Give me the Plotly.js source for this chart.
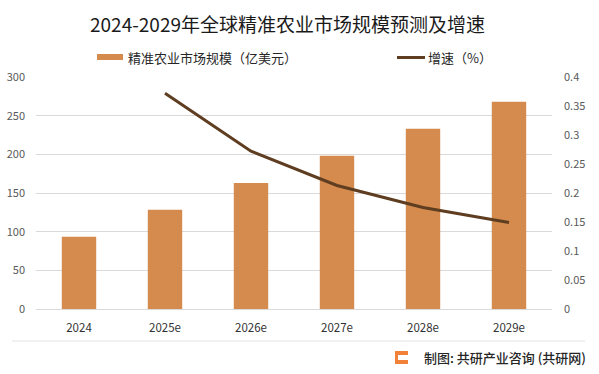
<!DOCTYPE html>
<html>
<head>
<meta charset="utf-8">
<script src="https://cdn.plot.ly/plotly-3.0.1.min.js"></script>
<style>
html,body{margin:0;padding:0;background:#fff;}
#chart{width:599px;height:374px;}
</style>
</head>
<body>
<div id="chart"></div>
<script>
const categories = ["2024", "2025e", "2026e", "2027e", "2028e", "2029e"];
const marketSize = [93.5, 128.5, 163.0, 198.3, 233.2, 268.0];
const growthRate = [null, 0.372, 0.272, 0.213, 0.175, 0.149];
const leftTicks = [0, 50, 100, 150, 200, 250, 300];
const rightTicks = [0, 0.05, 0.1, 0.15, 0.2, 0.25, 0.3, 0.35, 0.4];
const rightTickText = ["0", "0.05", "0.1", "0.15", "0.2", "0.25", "0.3", "0.35", "0.4"];
const titleText = "2024-2029年全球精准农业市场规模预测及增速";
const barName = "精准农业市场规模（亿美元）";
const lineName = "增速（%）";
const sourceText = "制图: 共研产业咨询 (共研网)";

const FONT = '"Noto Sans CJK SC", "Noto Sans", sans-serif';
const barColor = "#D48B4D";
const lineColor = "#5E3D20";

const traces = [
  {
    type: "bar",
    x: categories,
    y: marketSize,
    name: barName,
    marker: {color: barColor},
    width: 0.4,
    yaxis: "y",
    hoverinfo: "x+y"
  },
  {
    type: "scatter",
    mode: "lines",
    x: categories,
    y: growthRate,
    name: lineName,
    line: {color: lineColor, width: 3},
    yaxis: "y2",
    connectgaps: false
  }
];

const px = v => (v - 36) / 516;
const py = v => (309 - v) / 232;

const layout = {
  width: 599,
  height: 374,
  margin: {l: 36, r: 47, t: 77, b: 65},
  paper_bgcolor: "#ffffff",
  plot_bgcolor: "#ffffff",
  showlegend: false,
  font: {family: FONT, color: "#595959", size: 11},
  title: {
    text: titleText,
    font: {family: FONT, size: 19, color: "#1a1a1a", weight: 400},
    x: 0.48, xref: "container", xanchor: "center",
    y: 0.933, yref: "container", yanchor: "middle"
  },
  xaxis: {
    type: "category",
    showgrid: false,
    showline: false,
    zeroline: false,
    ticks: "",
    tickfont: {family: FONT, size: 11.5, color: "#333333"},
    ticklabelstandoff: 10
  },
  yaxis: {
    range: [0, 300],
    tickvals: leftTicks,
    showgrid: true,
    gridcolor: "#d9d9d9",
    gridwidth: 1,
    zeroline: true,
    zerolinecolor: "#d9d9d9",
    zerolinewidth: 1,
    showline: false,
    ticks: "",
    tickfont: {family: FONT, size: 11, color: "#595959"},
    ticklabelstandoff: 10
  },
  yaxis2: {
    overlaying: "y",
    side: "right",
    range: [0, 0.4],
    tickvals: rightTicks,
    ticktext: rightTickText,
    showgrid: false,
    zeroline: false,
    showline: false,
    ticks: "",
    tickfont: {family: FONT, size: 11, color: "#595959"},
    ticklabelstandoff: 11
  },
  shapes: [
    {type: "rect", xref: "paper", yref: "paper",
     x0: px(97), x1: px(123), y0: py(60), y1: py(54),
     fillcolor: barColor, line: {width: 0}},
    {type: "line", xref: "paper", yref: "paper",
     x0: px(397), x1: px(425), y0: py(57.5), y1: py(57.5),
     line: {color: lineColor, width: 3}},
    {type: "line", xref: "paper", yref: "paper",
     x0: px(12), x1: px(585), y0: py(341), y1: py(341),
     line: {color: "#e3e3e3", width: 1}},
    {type: "rect", xref: "paper", yref: "paper",
     x0: px(395), x1: px(408), y0: py(364), y1: py(351),
     fillcolor: "#F2813A", line: {width: 0}},
    {type: "rect", xref: "paper", yref: "paper",
     x0: px(398), x1: px(408), y0: py(360), y1: py(355),
     fillcolor: "#ffffff", line: {width: 0}}
  ],
  annotations: [
    {xref: "paper", yref: "paper", x: px(126), y: py(57.5),
     xanchor: "left", yanchor: "middle", showarrow: false,
     text: barName, font: {family: FONT, size: 13, color: "#262626"}},
    {xref: "paper", yref: "paper", x: px(426), y: py(57.5),
     xanchor: "left", yanchor: "middle", showarrow: false,
     text: lineName, font: {family: FONT, size: 13, color: "#262626"}},
    {xref: "paper", yref: "paper", x: px(588), y: py(357),
     xanchor: "right", yanchor: "middle", showarrow: false,
     text: sourceText, font: {family: FONT, size: 13, color: "#262626", weight: 500}}
  ]
};

Plotly.newPlot("chart", traces, layout, {displayModeBar: false, staticPlot: true});
</script>
</body>
</html>
